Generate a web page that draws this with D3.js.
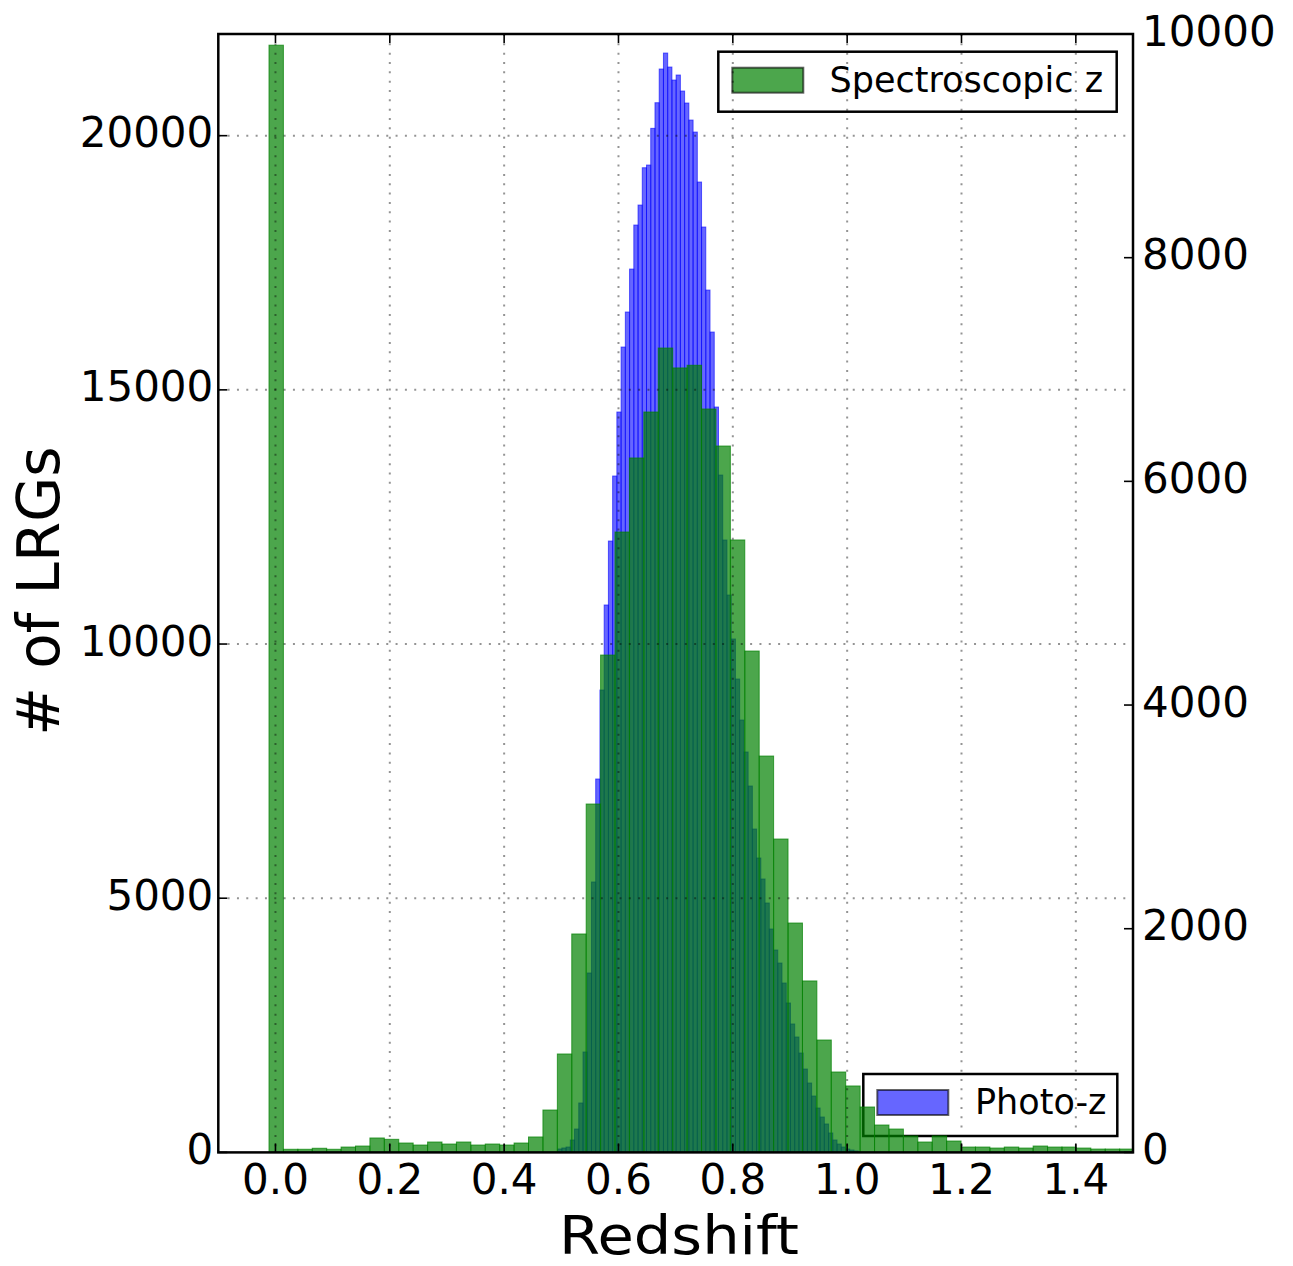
<!DOCTYPE html>
<html>
<head>
<meta charset="utf-8">
<script src="https://cdn.jsdelivr.net/npm/d3@7"></script>
<style>
  body { margin: 0; background: #fff; }
  svg { display: block; }
  text { font-family: "DejaVu Sans", sans-serif; fill: #000; }
</style>
</head>
<body>
<svg id="chart" width="1293" height="1266"></svg>
<script>
// Photometric redshift histogram (left axis): first bin edge, bin width, counts
const photoStart = 0.4935;
const photoWidth = 0.007406;
const photoCounts = [
  67, 87, 106, 244, 460, 972, 1975, 3529, 5319, 7345,
  9095, 10768, 12026, 13305, 14564, 15842, 16531, 17376, 18242, 18635,
  19369, 19422, 20144, 20648, 21311, 21625, 21350, 21094, 21193, 20878,
  20642, 20307, 20071, 19088, 18203, 16963, 16137, 14662, 13324, 12046,
  10964, 10099, 9312, 8505, 7876, 7207, 6361, 5791, 5378, 4906,
  4394, 3981, 3725, 3332, 2939, 2526, 2270, 1955, 1640, 1365,
  1109, 873, 696, 559, 382, 244, 165, 106, 67, 47, 28
];

// Spectroscopic redshift histogram (right axis)
const specStart = -0.01134;
const specWidth = 0.02522;
const specCounts = [
  9900, 28, 28, 37, 28, 48, 57, 129, 117, 84,
  66, 93, 75, 93, 66, 75, 66, 84, 138, 379,
  880, 1953, 3115, 4447, 5547, 6209, 6620, 7192, 7014, 7038,
  6647, 6316, 5476, 4483, 3544, 2802, 2051, 1533, 1005, 719,
  594, 406, 245, 209, 147, 93, 147, 102, 48, 48,
  39, 48, 39, 57, 48, 48, 39, 30, 30, 30
];

const xTicks = [0.0, 0.2, 0.4, 0.6, 0.8, 1.0, 1.2, 1.4];
const xTickLabels = ["0.0", "0.2", "0.4", "0.6", "0.8", "1.0", "1.2", "1.4"];
const leftTicks = [0, 5000, 10000, 15000, 20000];
const rightTicks = [0, 2000, 4000, 6000, 8000, 10000];

const xLabel = "Redshift";
const yLabel = "# of LRGs";
const photoName = "Photo-z";
const specName = "Spectroscopic z";

const svg = d3.select("#chart");
const plot = { left: 218.3, right: 1133, top: 34, bottom: 1152.4 };

const x = d3.scaleLinear().domain([-0.1, 1.5]).range([plot.left, plot.right]);
const yL = d3.scaleLinear().domain([0, 22000]).range([plot.bottom, plot.top]);
const yR = d3.scaleLinear().domain([0, 10000]).range([plot.bottom, plot.top]);

const BLUE = "#0000ff", GREEN = "#008000";

svg.append("rect").attr("width", 1293).attr("height", 1266).attr("fill", "#fff");

svg.append("defs").append("clipPath").attr("id", "plotClip")
  .append("rect")
  .attr("x", plot.left).attr("y", plot.top)
  .attr("width", plot.right - plot.left).attr("height", plot.bottom - plot.top);

const photoBins = photoCounts.map((c, i) => ({ x0: photoStart + i * photoWidth, x1: photoStart + (i + 1) * photoWidth, c }));
const specBins = specCounts.map((c, i) => ({ x0: specStart + i * specWidth, x1: specStart + (i + 1) * specWidth, c }));

// bars of one histogram: translucent face plus translucent edge
function drawBars(g, bins, y, color, alpha) {
  g.selectAll("rect").data(bins).join("rect")
    .attr("x", d => x(d.x0))
    .attr("width", d => x(d.x1) - x(d.x0))
    .attr("y", d => y(d.c))
    .attr("height", d => y(0) - y(d.c))
    .attr("fill", color).attr("fill-opacity", alpha)
    .attr("stroke", color).attr("stroke-opacity", alpha)
    .attr("stroke-width", 1);
}

function drawLegend(g, bx, by, bw, bh, color, alpha, label, tx, ty) {
  g.append("rect").attr("x", bx).attr("y", by).attr("width", bw).attr("height", bh)
    .attr("fill", "#fff").attr("stroke", "#000").attr("stroke-width", 2.5);
  g.append("rect").attr("x", bx + 14).attr("y", by + 16).attr("width", 71).attr("height", 25)
    .attr("fill", color).attr("fill-opacity", alpha)
    .attr("stroke", "#000").attr("stroke-opacity", 0.6).attr("stroke-width", 2);
  g.append("text").attr("x", tx).attr("y", ty).attr("font-size", 35).text(label);
}

// photo-z histogram and its legend (lower right)
const gPhoto = svg.append("g").attr("clip-path", "url(#plotClip)");
drawBars(gPhoto, photoBins, yL, BLUE, 0.6);
drawLegend(svg.append("g"), 863.3, 1074, 254, 62, BLUE, 0.6, photoName, 975, 1114);

// spectroscopic histogram on the twin axis, drawn above
const gSpec = svg.append("g").attr("clip-path", "url(#plotClip)");
drawBars(gSpec, specBins, yR, GREEN, 0.7);
drawLegend(svg.append("g"), 718.3, 51.7, 398.4, 60, GREEN, 0.7, specName, 829.5, 91.5);

// dotted grid
const grid = svg.append("g")
  .attr("stroke", "#000").attr("stroke-opacity", 0.42)
  .attr("stroke-width", 2).attr("stroke-dasharray", "2,7.33");
grid.selectAll("line.v").data(xTicks).join("line").attr("class", "v")
  .attr("x1", d => x(d)).attr("x2", d => x(d))
  .attr("y1", plot.top).attr("y2", plot.bottom);
grid.selectAll("line.h").data(leftTicks.filter(d => d > 0)).join("line").attr("class", "h")
  .attr("x1", plot.left).attr("x2", plot.right)
  .attr("y1", d => yL(d)).attr("y2", d => yL(d));

// ticks pointing inward
const tickLen = 9;
const ticks = svg.append("g").attr("stroke", "#000").attr("stroke-width", 1.6);
xTicks.forEach(t => {
  ticks.append("line").attr("x1", x(t)).attr("x2", x(t)).attr("y1", plot.bottom).attr("y2", plot.bottom - tickLen);
  ticks.append("line").attr("x1", x(t)).attr("x2", x(t)).attr("y1", plot.top).attr("y2", plot.top + tickLen);
});
leftTicks.forEach(t => {
  ticks.append("line").attr("x1", plot.left).attr("x2", plot.left + tickLen).attr("y1", yL(t)).attr("y2", yL(t));
});
rightTicks.forEach(t => {
  ticks.append("line").attr("x1", plot.right).attr("x2", plot.right - tickLen).attr("y1", yR(t)).attr("y2", yR(t));
});

// frame
svg.append("rect")
  .attr("x", plot.left).attr("y", plot.top)
  .attr("width", plot.right - plot.left).attr("height", plot.bottom - plot.top)
  .attr("fill", "none").attr("stroke", "#000").attr("stroke-width", 2.5);

// tick labels
const labels = svg.append("g").attr("font-size", 42);
labels.selectAll("text.x").data(xTicks).join("text").attr("class", "x")
  .attr("x", d => x(d)).attr("y", plot.bottom + 42)
  .attr("text-anchor", "middle")
  .text((d, i) => xTickLabels[i]);
labels.selectAll("text.l").data(leftTicks).join("text").attr("class", "l")
  .attr("x", plot.left - 5).attr("y", d => yL(d) + 11.5)
  .attr("text-anchor", "end")
  .text(d => String(d));
labels.selectAll("text.r").data(rightTicks).join("text").attr("class", "r")
  .attr("x", plot.right + 9).attr("y", d => yR(d) + 11.5)
  .attr("text-anchor", "start")
  .text(d => String(d));

// axis titles
svg.append("text")
  .attr("x", 679).attr("y", 1253.5)
  .attr("text-anchor", "middle").attr("font-size", 52.5)
  .attr("textLength", 240).attr("lengthAdjust", "spacingAndGlyphs")
  .text(xLabel);
svg.append("text")
  .attr("transform", `translate(59,${(plot.top + plot.bottom) / 2 - 2}) rotate(-90)`)
  .attr("text-anchor", "middle").attr("font-size", 58)
  .text(yLabel);
</script>
</body>
</html>
